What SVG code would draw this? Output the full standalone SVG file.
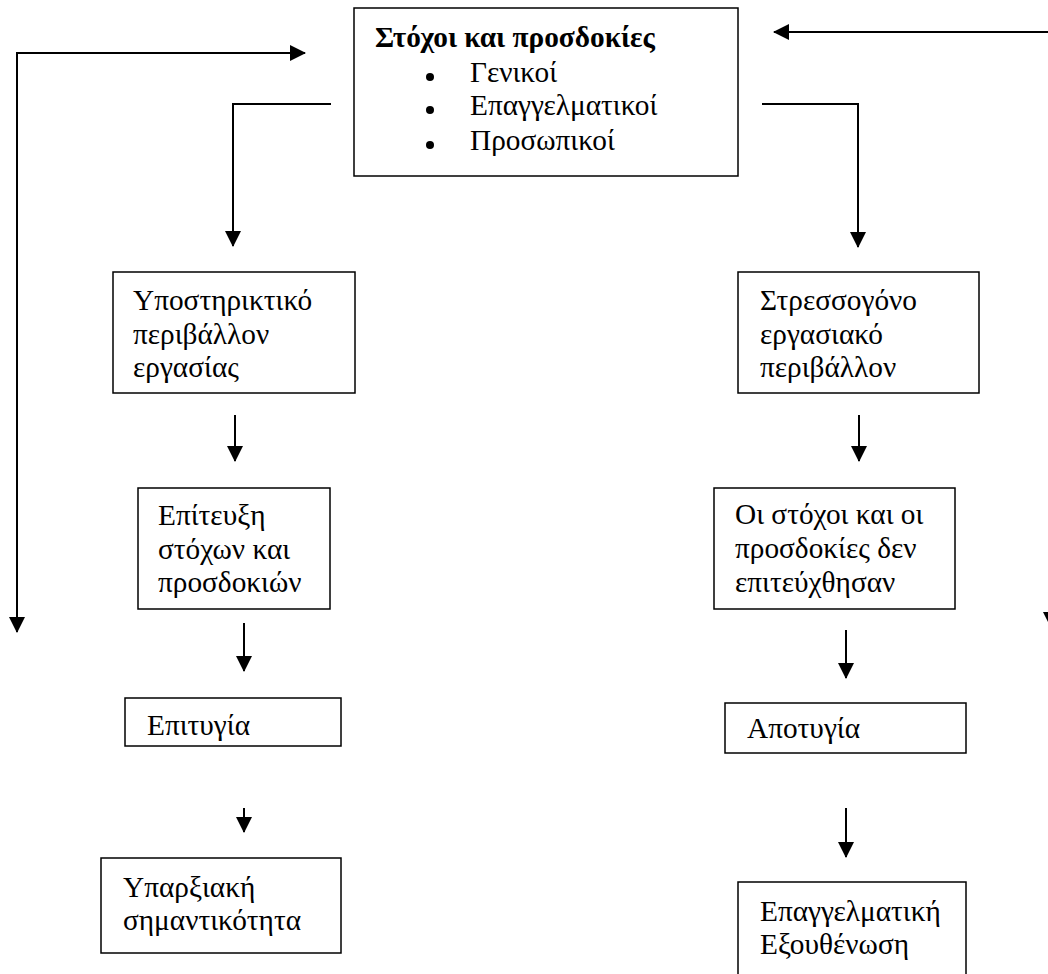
<svg xmlns="http://www.w3.org/2000/svg" width="1048" height="974" viewBox="0 0 1048 974">
<style>
.box{fill:#fff;stroke:#000;stroke-width:1.5}
.t{font-family:"Liberation Serif","DejaVu Serif",serif;font-size:29.3px;fill:#000}
.b{font-weight:bold}
.c{fill:none;stroke:#000;stroke-width:2}
</style>
<defs>
<marker id="ah" markerUnits="userSpaceOnUse" markerWidth="16" markerHeight="16" viewBox="0 0 16 16" refX="15" refY="8" orient="auto-start-reverse">
<path d="M0,0 L16,8 L0,16 z" fill="#000"/>
</marker>
</defs>
<rect width="1048" height="974" fill="#fff"/>
<g id="connectors">
<path class="c" d="M305 53 H17 V632" marker-start="url(#ah)" marker-end="url(#ah)"/>
<path class="c" d="M774 32 H1051 V627" marker-start="url(#ah)" marker-end="url(#ah)"/>
<path class="c" d="M331 104 H233 V246" marker-end="url(#ah)"/>
<path class="c" d="M762 104 H858 V247" marker-end="url(#ah)"/>
<path class="c" d="M235 415 V461" marker-end="url(#ah)"/>
<path class="c" d="M859 415 V461" marker-end="url(#ah)"/>
<path class="c" d="M244 623 V671" marker-end="url(#ah)"/>
<path class="c" d="M846 630 V678" marker-end="url(#ah)"/>
<path class="c" d="M244 808 V832" marker-end="url(#ah)"/>
<path class="c" d="M846 808 V857" marker-end="url(#ah)"/>
</g>
<g id="goals">
<rect class="box" x="354" y="8" width="384" height="168"/>
<text class="t b" x="375" y="47">Στόχοι και προσδοκίες</text>
<circle cx="430" cy="77" r="4"/>
<text class="t" x="470" y="82">Γενικοί</text>
<circle cx="430" cy="110" r="4"/>
<text class="t" x="470" y="115">Επαγγελματικοί</text>
<circle cx="430" cy="145" r="4"/>
<text class="t" x="470" y="150">Προσωπικοί</text>
</g>
<g id="supportive">
<rect class="box" x="113" y="272" width="242" height="121"/>
<text class="t" x="133" y="310">Υποστηρικτικό</text>
<text class="t" x="133" y="344">περιβάλλον</text>
<text class="t" x="133" y="377">εργασίας</text>
</g>
<g id="stressful">
<rect class="box" x="738" y="272" width="241" height="121"/>
<text class="t" x="760" y="310">Στρεσσογόνο</text>
<text class="t" x="760" y="344">εργασιακό</text>
<text class="t" x="760" y="377">περιβάλλον</text>
</g>
<g id="achieved">
<rect class="box" x="138" y="488" width="192" height="121"/>
<text class="t" x="158" y="525">Επίτευξη</text>
<text class="t" x="158" y="559">στόχων και</text>
<text class="t" x="158" y="592">προσδοκιών</text>
</g>
<g id="notachieved">
<rect class="box" x="714" y="488" width="241" height="121"/>
<text class="t" x="735" y="524">Οι στόχοι και οι</text>
<text class="t" x="735" y="558">προσδοκίες δεν</text>
<text class="t" x="735" y="592">επιτεύχθησαν</text>
</g>
<g id="success">
<rect class="box" x="125" y="698" width="216" height="48"/>
<text class="t" x="147" y="735">Επιτυγία</text>
</g>
<g id="failure">
<rect class="box" x="725" y="703" width="241" height="50"/>
<text class="t" x="747" y="738">Αποτυγία</text>
</g>
<g id="meaning">
<rect class="box" x="101" y="858" width="240" height="95"/>
<text class="t" x="123" y="897">Υπαρξιακή</text>
<text class="t" x="123" y="930">σημαντικότητα</text>
</g>
<g id="burnout">
<rect class="box" x="738" y="882" width="228" height="100"/>
<text class="t" x="760" y="921">Επαγγελματική</text>
<text class="t" x="760" y="954">Εξουθένωση</text>
</g>
</svg>
